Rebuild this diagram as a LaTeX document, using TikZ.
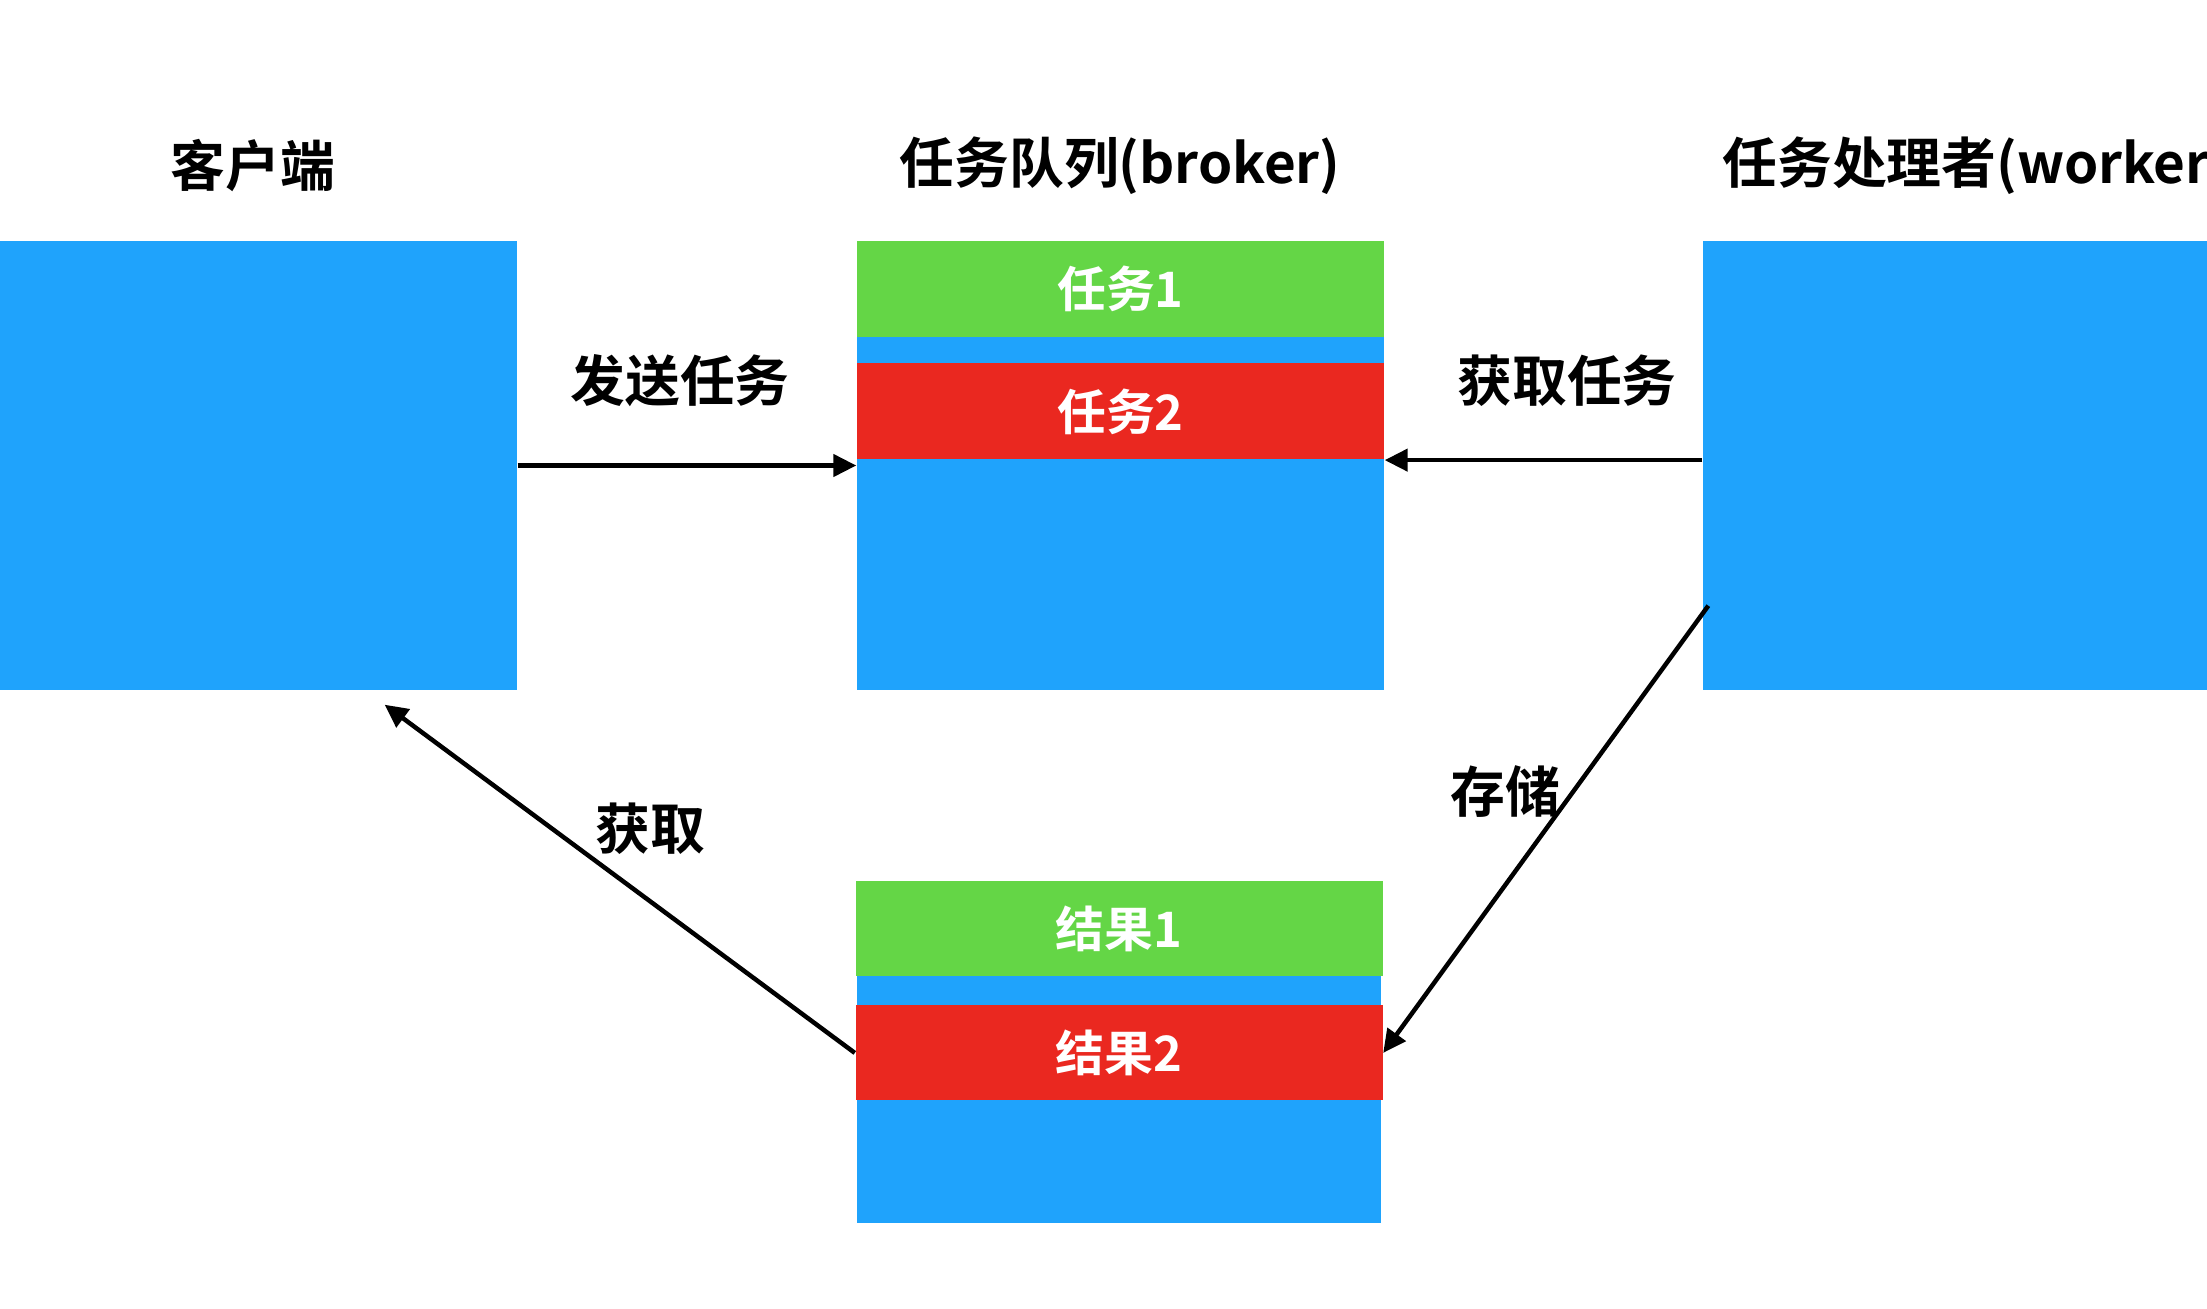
\documentclass[tikz,border=0pt]{standalone}
\usepackage{fontspec}
\setmainfont{Noto Sans CJK SC}[BoldFont={Noto Sans CJK SC Bold}]
\usetikzlibrary{positioning,arrows.meta}
\definecolor{boxblue}{RGB}{31,163,252}
\definecolor{taskgreen}{RGB}{100,214,70}
\definecolor{taskred}{RGB}{234,40,32}

\begin{document}
\begin{tikzpicture}[x=0.1mm,y=0.1mm,
  panel/.style={rectangle,fill=boxblue,inner sep=0pt,minimum width=52.7mm,minimum height=44.9mm},
  slot/.style={rectangle,inner sep=0pt,minimum width=52.7mm,minimum height=9.6mm,
    text=white,font=\fontsize{13.9pt}{16pt}\selectfont\bfseries},
  heading/.style={font=\fontsize{15.6pt}{18pt}\selectfont\bfseries},
  flowlabel/.style={font=\fontsize{15.6pt}{18pt}\selectfont\bfseries},
  flow/.style={-{Triangle[length=2.3mm,width=2.2mm]},line width=0.45mm},
  ]
  \useasboundingbox (0,0) rectangle (2207,1308);

  % clients
  \node[panel,minimum width=51.7mm] (client) at (258.5,842.5) {};
  \node[heading] (clienttitle) at (253,1142) {客户端};

  % broker
  \node[panel] (queue) at (1120.5,842.5) {};
  \node[slot,fill=taskgreen,below=0pt of queue.north] (task1) {任务1};
  \node[slot,fill=taskred,below=2.5mm of task1] (task2) {任务2};
  \node[heading] (queuetitle) at (1120,1142) {任务队列(broker)};

  % worker
  \node[panel] (worker) at (1966.5,842.5) {};
  \node[heading,anchor=west] (workertitle) at (1710,1142) {任务处理者(worker)};

  % results
  \node[panel,minimum width=52.4mm,minimum height=34.2mm] (results) at (1119,256) {};
  \node[slot,fill=taskgreen,minimum height=9.5mm,below=0pt of results.north] (res1) {结果1};
  \node[slot,fill=taskred,minimum height=9.5mm,below=2.8mm of res1] (res2) {结果2};

  % connectors
  \draw[flow] (client) -- (queue);
  \draw[flow] (worker.west |- task2.south) -- (task2.south east);
  \coordinate (storefrom) at ([shift={(6,85)}]worker.south west);
  \draw[flow] (storefrom) -- (res2.east);
  \coordinate (getto) at ([shift={(-133,-14)}]client.south east);
  \draw[flow] (res2.west) -- (getto);

  % labels
  \node[flowlabel] (sendlbl) at (680,927) {发送任务};
  \node[flowlabel] (fetchlbl) at (1567,927) {获取任务};
  \node[flowlabel] (getlbl) at (650,479) {获取};
  \node[flowlabel] (storelbl) at (1505,516) {存储};
\end{tikzpicture}
\end{document}
